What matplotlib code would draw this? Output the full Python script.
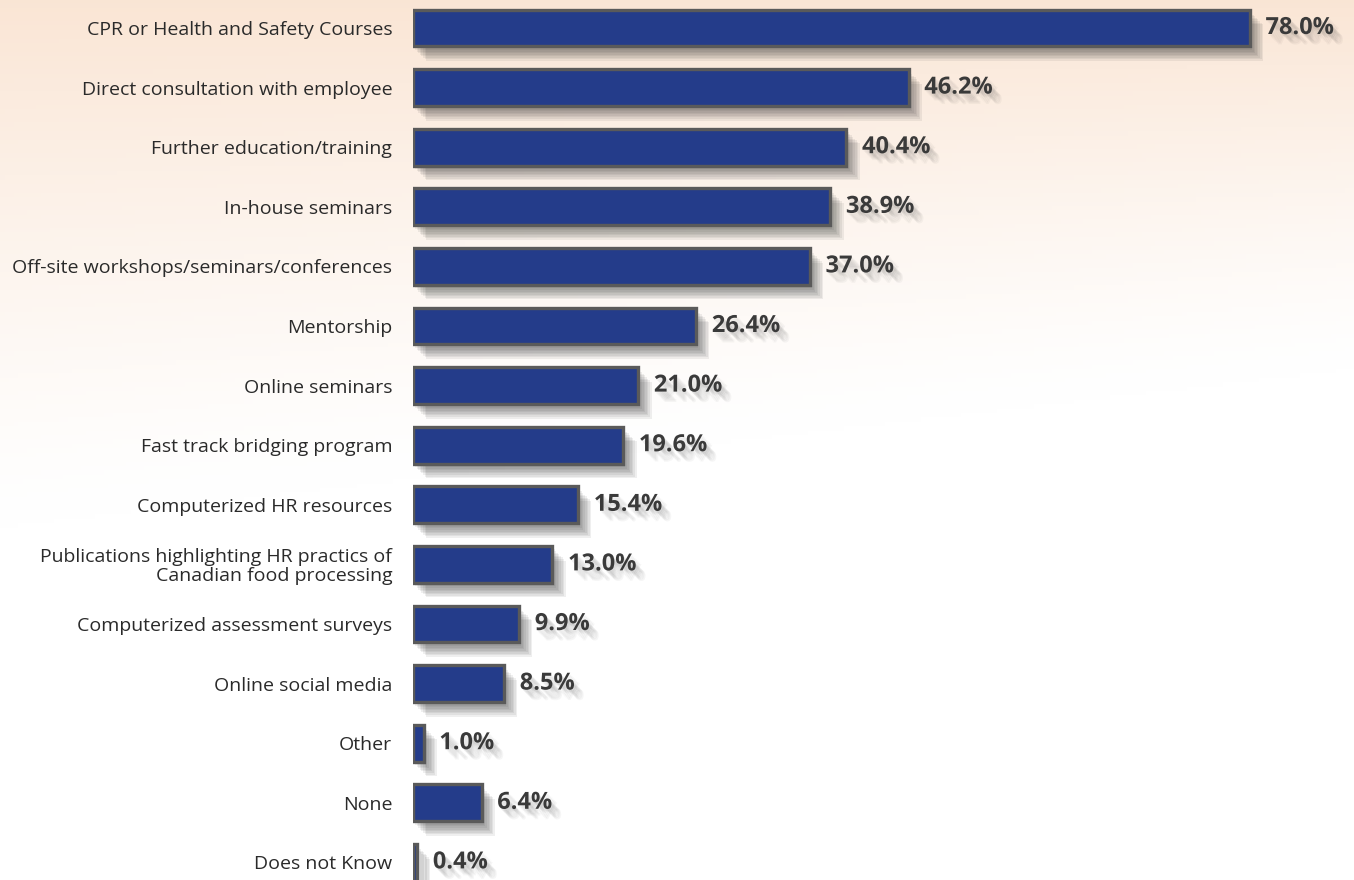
import numpy as np
import matplotlib
matplotlib.use("Agg")
import matplotlib.pyplot as plt
import matplotlib.patheffects as pe

categories = [
    "CPR or Health and Safety Courses",
    "Direct consultation with employee",
    "Further education/training",
    "In-house seminars",
    "Off-site workshops/seminars/conferences",
    "Mentorship",
    "Online seminars",
    "Fast track bridging program",
    "Computerized HR resources",
    "Publications highlighting HR practics of\nCanadian food processing",
    "Computerized assessment surveys",
    "Online social media",
    "Other",
    "None",
    "Does not Know",
]
values = [78.0, 46.2, 40.4, 38.9, 37.0, 26.4, 21.0, 19.6, 15.4, 13.0, 9.9, 8.5, 1.0, 6.4, 0.4]

W, H = 1354, 880
fig = plt.figure(figsize=(W / 100, H / 100), dpi=100)

# warm background wash fading to white
bg = fig.add_axes([0, 0, 1, 1])
yy, xx = np.mgrid[0:1:200j, 0:1:300j]
reach = 0.42 + 0.18 * (1 - xx)
fade = np.clip(1 - yy / reach, 0, 1) ** 1.3
peach = np.array([0.98, 0.90, 0.835])
img = 1 - fade[..., None] * (1 - peach)
bg.imshow(img, aspect="auto", extent=[0, 1, 1, 0])
bg.set_axis_off()

x0 = 413 / W
ax = fig.add_axes([x0, 0, 1 - x0, 1])
ax.patch.set_alpha(0)

px_per_unit = 10.73
row_h = 59.6
ypos = np.arange(len(values))


def soft_shadow(dx, dy, spread, steps, alpha):
    # stack offset copies to fake a blurred drop shadow
    fx = []
    for k in range(steps):
        t = k / max(steps - 1, 1) - 0.5
        fx.append(pe.SimplePatchShadow(offset=(dx + t * spread, dy - t * spread),
                                       shadow_rgbFace="#2e2e2e", alpha=alpha))
    return fx


bars = ax.barh(ypos, values, height=0.62, color="#243c8a",
               edgecolor="#5a5a5a", linewidth=2.4, zorder=3)
for b in bars:
    b.set_path_effects(soft_shadow(5.5, -6.5, 8, 8, 0.075) + [pe.Normal()])

for y, v in zip(ypos, values):
    ax.text(v + 1.45, y, f"{v:.1f}%", va="center", ha="left",
            fontsize=17, fontweight="bold", color="#3a3a3a", family="Open Sans",
            path_effects=soft_shadow(4, -4.5, 6, 8, 0.04) + [pe.Normal()], zorder=4)

ax.set_xlim(0, (W - 413) / px_per_unit)
ax.set_ylim((H - 28) / row_h, -28 / row_h)
ax.set_yticks(ypos)
ax.set_yticklabels(categories, fontsize=14, color="#2a2a2a", family="Open Sans",
                   linespacing=1.05)
ax.tick_params(axis="y", length=0, pad=15)
ax.set_xticks([])
for s in ax.spines.values():
    s.set_visible(False)

fig.savefig("out.png", dpi=100)
